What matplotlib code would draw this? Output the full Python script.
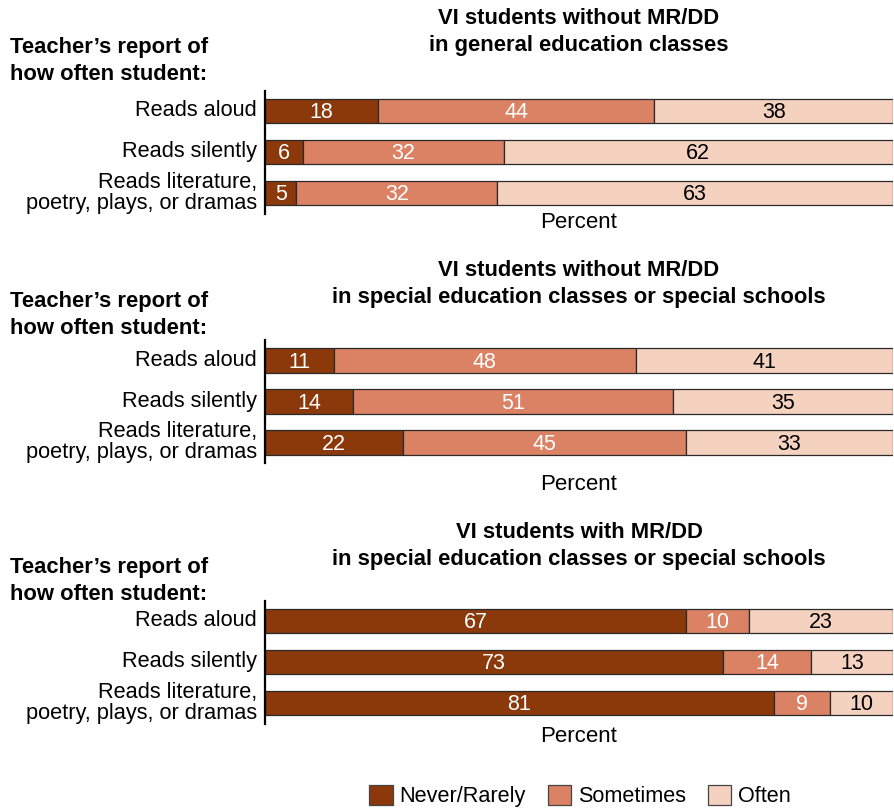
import matplotlib
matplotlib.use("Agg")
import matplotlib.pyplot as plt
from matplotlib.patches import Patch

plt.rcParams['font.family'] = ['Liberation Sans', 'DejaVu Sans']

categories = ["Reads aloud", "Reads silently", "Reads literature,\npoetry, plays, or dramas"]
series_names = ["Never/Rarely", "Sometimes", "Often"]

panel_titles = [
    "VI students without MR/DD\nin general education classes",
    "VI students without MR/DD\nin special education classes or special schools",
    "VI students with MR/DD\nin special education classes or special schools",
]

never_rarely = [[18, 6, 5], [11, 14, 22], [67, 73, 81]]
sometimes = [[44, 32, 32], [48, 51, 45], [10, 14, 9]]
often = [[38, 62, 63], [41, 35, 33], [23, 13, 10]]

colors = ["#8B380A", "#DC8264", "#F5D1BF"]
text_colors = ["white", "white", "black"]

W, H = 895, 808
fig = plt.figure(figsize=(W / 100, H / 100), dpi=100)


def fx(px):
    return px / W


def fy(py):
    return 1 - py / H


# pixel layout of each panel: axis top, title line y's, side heading y's, "Percent" y
panels = [
    dict(top=90.5, title=(18, 45), head=(48, 75), xlabel=222),
    dict(top=340, title=(270, 297), head=(302, 329), xlabel=484),
    dict(top=600.5, title=(532, 559), head=(567, 594), xlabel=737),
]

ax_left, ax_right = 265, 893
ax_h = 123

for i, p in enumerate(panels):
    ax = fig.add_axes([fx(ax_left), fy(p["top"] + ax_h), fx(ax_right) - fx(ax_left), ax_h / H])
    ypos = list(range(len(categories)))
    left = [0] * len(categories)
    for s, vals in enumerate([never_rarely[i], sometimes[i], often[i]]):
        bars = ax.barh(ypos, vals, left=left, height=0.59, color=colors[s],
                       edgecolor="#2a2a2a", linewidth=0.9)
        for b, v in zip(bars, vals):
            ax.text(b.get_x() + b.get_width() / 2, b.get_y() + b.get_height() / 2 + 0.04,
                    f"{v}", ha="center", va="center", fontsize=15.5,
                    color=text_colors[s])
        left = [l + v for l, v in zip(left, vals)]
    ax.set_xlim(0, 100)
    ax.set_ylim(2.5, -0.5)
    ax.set_xticks([])
    ax.set_yticks([])
    for side in ["top", "right", "bottom"]:
        ax.spines[side].set_visible(False)
    ax.spines["left"].set_linewidth(1.6)
    ax.spines["left"].set_color("black")

    # category labels
    for yv, cat in zip(ypos, categories):
        ax.text(-1.3, yv, cat, ha="right", va="center", fontsize=15.7,
                linespacing=1.0, transform=ax.transData, clip_on=False)

    # panel title
    t1, t2 = panel_titles[i].split("\n")
    cx = fx((ax_left + ax_right) / 2)
    fig.text(cx, fy(p["title"][0]), t1, ha="center", va="center", fontsize=15.8, fontweight="bold")
    fig.text(cx, fy(p["title"][1]), t2, ha="center", va="center", fontsize=15.8, fontweight="bold")

    # side heading
    fig.text(fx(10), fy(p["head"][0]), "Teacher\u2019s report of", ha="left", va="center",
             fontsize=15.8, fontweight="bold")
    fig.text(fx(10), fy(p["head"][1]), "how often student:", ha="left", va="center",
             fontsize=15.8, fontweight="bold")

    # axis caption
    fig.text(cx, fy(p["xlabel"]), "Percent", ha="center", va="center", fontsize=16)

handles = [Patch(facecolor=c, edgecolor="#444444", linewidth=0.9) for c in colors]
fig.legend(handles, series_names, loc="center", bbox_to_anchor=(fx(580), fy(796)),
           ncol=3, frameon=False, fontsize=15.6, handlelength=1.1, handleheight=1.1,
           handletextpad=0.3, columnspacing=1.0, borderaxespad=0)

fig.savefig("out.png", dpi=100)
